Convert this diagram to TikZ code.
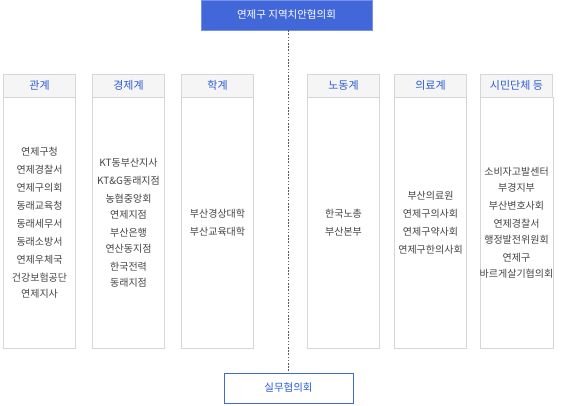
\documentclass[tikz,border=0pt]{standalone}
\usepackage{fontspec}
\setmainfont{Noto Sans CJK KR}
\usetikzlibrary{positioning}
\definecolor{councilblue}{RGB}{66,103,216}
\definecolor{councilrim}{RGB}{118,146,232}
\definecolor{headblue}{RGB}{44,92,214}
\definecolor{headgray}{RGB}{245,245,245}
\definecolor{boxgray}{RGB}{214,214,214}
\definecolor{bodygray}{RGB}{68,68,68}
\definecolor{dotgray}{RGB}{90,90,90}

\begin{document}
\begin{tikzpicture}[x=1pt,y=1pt,
      font=\fontsize{10}{18}\selectfont,node distance=0pt and 17pt,
      head/.style={draw=boxgray,fill=headgray,minimum width=72pt,minimum height=23pt,
                   inner sep=0pt,outer sep=0pt,text=headblue,font=\fontsize{11}{12}\selectfont},
      body/.style={draw=boxgray,fill=white,minimum width=72pt,minimum height=251pt,
                   inner sep=0pt,outer sep=0pt,text=bodygray,align=center},
      council/.style={draw=councilrim,fill=councilblue,text=white,minimum width=171pt,
                      minimum height=30pt,font=\fontsize{10.5}{12}\selectfont},
      working/.style={draw=councilblue,line width=1pt,fill=white,text=headblue,minimum width=129pt,
                      minimum height=30pt,font=\fontsize{10.5}{12}\selectfont},
      dots/.style={dotgray,line width=1.6pt,dash pattern=on 1.6pt off 1.6pt}]
    \useasboundingbox (0,0) rectangle (562,-406);
    \node[council] (top) at (286.5,-15) {연제구 지역치안협의회};
    \node[working] (work) at (288.5,-388) {실무협의회};
    \draw[dots] (top.south -| work.north)--(work.north);
    % columns
    \node[head] (h1) at (39.5,-85.5) {관계};
    \node[head,right=of h1] (h2) {경제계};
    \node[head,right=of h2] (h3) {학계};
    \node[head,right=54pt of h3] (h4) {노동계};
    \node[head,right=15pt of h4] (h5) {의료계};
    \node[head,right=14pt of h5] (h6) {시민단체 등};
    \node[body,below=of h1] (b1) {연제구청\\연제경찰서\\연제구의회\\동래교육청\\동래세무서\\동래소방서\\연제우체국\\건강보험공단\\[-2pt]연제지사};
    \node[body,below=of h2] (b2) {KT동부산지사\\KT\&G동래지점\\농협중앙회\\[-2pt]연제지점\\부산은행\\[-2pt]연산동지점\\한국전력\\[-2pt]동래지점};
    \node[body,below=of h3] (b3) {부산경상대학\\부산교육대학};
    \node[body,below=of h4] (b4) {한국노총\\부산본부};
    \node[body,below=of h5] (b5) {부산의료원\\연제구의사회\\연제구약사회\\연제구한의사회};
    \node[body,below=of h6] (b6) {소비자고발센터\\[-2pt]부경지부\\부산변호사회\\연제경찰서\\[-2pt]행정발전위원회\\연제구\\[-2pt]바르게살기협의회};
  \end{tikzpicture}
\end{document}
